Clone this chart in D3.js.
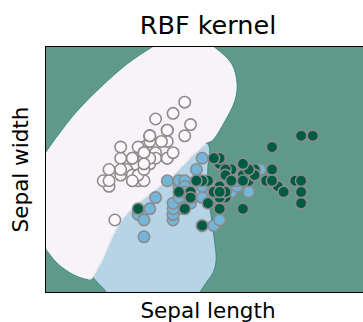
<!DOCTYPE html>
<html>
<head>
<meta charset="utf-8">
<script src="https://cdn.jsdelivr.net/npm/d3@7.9.0/dist/d3.min.js"></script>
<style>
  html, body { margin: 0; padding: 0; background: #fff; }
  svg { display: block; font-family: "DejaVu Sans", sans-serif; }
</style>
</head>
<body>
<svg id="chart" width="363" height="322"></svg>
<script>
// iris: sepal length / sepal width, per class
const setosaLength = [5.1,4.9,4.7,4.6,5.0,5.4,4.6,5.0,4.4,4.9,5.4,4.8,4.8,4.3,5.8,5.7,5.4,5.1,5.7,5.1,5.4,5.1,4.6,5.1,4.8,5.0,5.0,5.2,5.2,4.7,4.8,5.4,5.2,5.5,4.9,5.0,5.5,4.9,4.4,5.1,5.0,4.5,4.4,5.0,5.1,4.8,5.1,4.6,5.3,5.0];
const setosaWidth  = [3.5,3.0,3.2,3.1,3.6,3.9,3.4,3.4,2.9,3.1,3.7,3.4,3.0,3.0,4.0,4.4,3.9,3.5,3.8,3.8,3.4,3.7,3.6,3.3,3.4,3.0,3.4,3.5,3.4,3.2,3.1,3.4,4.1,4.2,3.1,3.2,3.5,3.6,3.0,3.4,3.5,2.3,3.2,3.5,3.8,3.0,3.8,3.2,3.7,3.3];
const versicolorLength = [7.0,6.4,6.9,5.5,6.5,5.7,6.3,4.9,6.6,5.2,5.0,5.9,6.0,6.1,5.6,6.7,5.6,5.8,6.2,5.6,5.9,6.1,6.3,6.1,6.4,6.6,6.8,6.7,6.0,5.7,5.5,5.5,5.8,6.0,5.4,6.0,6.7,6.3,5.6,5.5,5.5,6.1,5.8,5.0,5.6,5.7,5.7,6.2,5.1,5.7];
const versicolorWidth  = [3.2,3.2,3.1,2.3,2.8,2.8,3.3,2.4,2.9,2.7,2.0,3.0,2.2,2.9,2.9,3.1,3.0,2.7,2.2,2.5,3.2,2.8,2.5,2.8,2.9,3.0,2.8,3.0,2.9,2.6,2.4,2.4,2.7,2.7,3.0,3.4,3.1,2.3,3.0,2.5,2.6,3.0,2.6,2.3,2.7,3.0,2.9,2.9,2.5,2.8];
const virginicaLength = [6.3,5.8,7.1,6.3,6.5,7.6,4.9,7.3,6.7,7.2,6.5,6.4,6.8,5.7,5.8,6.4,6.5,7.7,7.7,6.0,6.9,5.6,7.7,6.3,6.7,7.2,6.2,6.1,6.4,7.2,7.4,7.9,6.4,6.3,6.1,7.7,6.3,6.4,6.0,6.9,6.7,6.9,5.8,6.8,6.7,6.7,6.3,6.5,6.2,5.9];
const virginicaWidth  = [3.3,2.7,3.0,2.9,3.0,3.0,2.5,2.9,2.5,3.6,3.2,2.7,3.0,2.5,2.8,3.2,3.0,3.8,2.6,2.2,3.2,2.8,2.8,2.7,3.3,3.2,2.8,3.0,2.8,3.0,2.8,3.8,2.8,2.8,2.6,3.0,3.4,3.1,3.0,3.1,3.1,3.1,2.7,3.2,3.3,3.0,2.5,3.0,3.4,3.0];

// decision regions (data coords)
const setosaRegion = [
  [3.18,3.28],[3.33,3.53],[3.58,3.89],[3.85,4.24],[4.26,4.67],[4.71,5.08],[5.17,5.40],[5.45,5.56],
  [5.96,5.58],[6.19,5.40],[6.51,5.08],[6.60,4.72],[6.56,4.42],[6.39,4.06],[6.17,3.71],[6.06,3.66],
  [5.89,3.51],[5.65,3.26],[5.40,3.01],[5.14,2.80],[4.90,2.60],[4.73,2.44],[4.55,2.19],[4.42,1.91],
  [4.30,1.62],[4.19,1.41],[4.11,1.27],[4.05,1.24],[3.80,1.32],[3.51,1.53],[3.30,1.80],[3.18,1.98]
];
const versicolorRegion = [
  [5.90,3.95],[6.08,3.70],[6.13,3.55],[6.10,3.28],[6.10,2.84],[6.17,2.25],[6.22,1.86],[6.24,1.59],
  [6.19,1.37],[6.08,1.20],[5.95,1.00],[5.85,0.85],[4.25,0.85],[4.35,1.00],[4.19,1.20],[4.10,1.35],
  [4.40,2.40],[5.20,3.10]
];

const xDomain = [3.3, 8.9];
const yDomain = [1.0, 5.4];

const svg = d3.select('#chart');
const margin = { left: 45, top: 46, bottom: 293, right: 371 };

const x = d3.scaleLinear().domain(xDomain).range([margin.left, margin.right]);
const y = d3.scaleLinear().domain(yDomain).range([margin.bottom, margin.top]);
const plotW = margin.right - margin.left;
const plotH = margin.bottom - margin.top;

svg.append('clipPath').attr('id', 'plotclip')
  .append('rect')
  .attr('x', margin.left).attr('y', margin.top)
  .attr('width', plotW).attr('height', plotH);

const plot = svg.append('g').attr('clip-path', 'url(#plotclip)');

plot.append('rect')
  .attr('x', margin.left).attr('y', margin.top)
  .attr('width', plotW).attr('height', plotH)
  .attr('fill', '#5f998a');

const area = d3.line()
  .x(d => x(d[0]))
  .y(d => y(d[1]))
  .curve(d3.curveCatmullRomClosed.alpha(0.5));

plot.append('path')
  .attr('d', area(versicolorRegion))
  .attr('fill', '#b7d3e6')
  .attr('stroke', '#2a8378')
  .attr('stroke-width', 0.8);

plot.append('path')
  .attr('d', area(setosaRegion))
  .attr('fill', '#f7f3f9')
  .attr('stroke', '#2a8378')
  .attr('stroke-width', 0.8);

// cover the stroke on the white/blue edge
plot.append('path')
  .attr('d', d3.line().x(d => x(d[0])).y(d => y(d[1])).curve(d3.curveCatmullRom.alpha(0.5))(setosaRegion.slice(15, 28)))
  .attr('fill', 'none')
  .attr('stroke', '#f7f3f9')
  .attr('stroke-width', 1.2);

const classes = [
  { lengths: setosaLength, widths: setosaWidth, color: '#fff7fb' },
  { lengths: versicolorLength, widths: versicolorWidth, color: '#73b6da' },
  { lengths: virginicaLength, widths: virginicaWidth, color: '#005b43' }
];

classes.forEach(c => {
  plot.append('g').selectAll('circle')
    .data(c.lengths.map((l, i) => [l, c.widths[i]]))
    .join('circle')
    .attr('cx', d => x(d[0]))
    .attr('cy', d => y(d[1]))
    .attr('r', 5.7)
    .attr('fill', c.color)
    .attr('stroke', '#8c8c8c')
    .attr('stroke-width', 1.6);
});

// frame
svg.append('rect')
  .attr('x', margin.left + 0.5).attr('y', margin.top + 0.5)
  .attr('width', plotW).attr('height', plotH - 1)
  .attr('fill', 'none')
  .attr('stroke', '#000')
  .attr('stroke-width', 1);

svg.append('text')
  .attr('x', (margin.left + margin.right) / 2).attr('y', 34)
  .attr('text-anchor', 'middle')
  .attr('font-size', 25.5)
  .attr('fill', '#000')
  .text('RBF kernel');

svg.append('text')
  .attr('x', (margin.left + margin.right) / 2).attr('y', 318)
  .attr('text-anchor', 'middle')
  .attr('font-size', 21.5)
  .attr('fill', '#000')
  .text('Sepal length');

svg.append('text')
  .attr('transform', `translate(28,${(margin.top + margin.bottom) / 2}) rotate(-90)`)
  .attr('text-anchor', 'middle')
  .attr('font-size', 21.5)
  .attr('fill', '#000')
  .text('Sepal width');
</script>
</body>
</html>
